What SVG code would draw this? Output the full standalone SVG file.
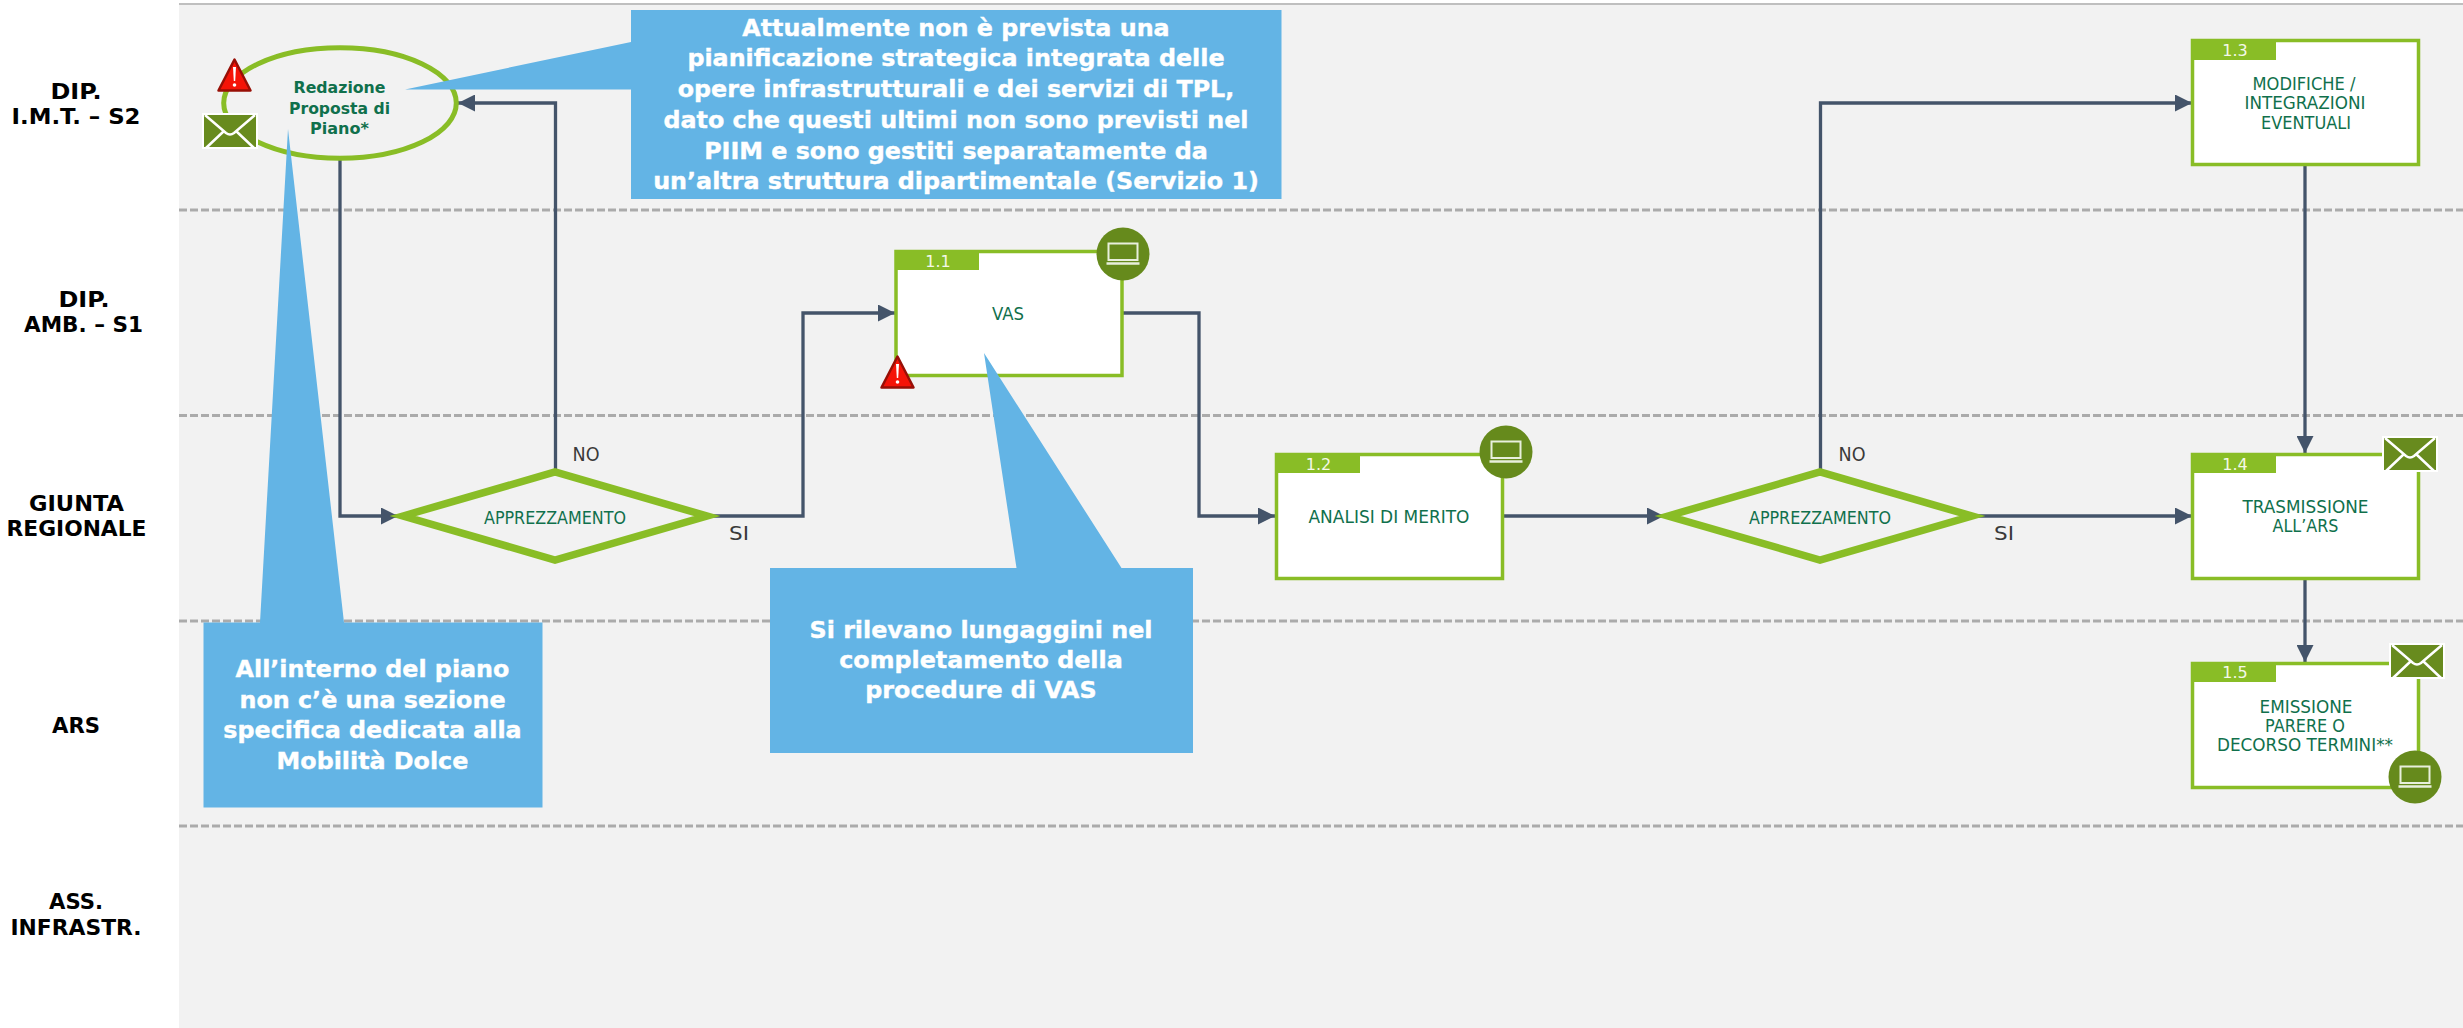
<svg xmlns="http://www.w3.org/2000/svg" width="2463" height="1028" viewBox="0 0 2463 1028">
<style>
text{font-family:"DejaVu Sans","Liberation Sans",sans-serif;text-anchor:middle}
.lane{font-size:21px;font-weight:700;fill:#000}
.lbl{font-size:17px;fill:#10704c}
.bold{font-size:16px;font-weight:700}
.num{font-size:16px;fill:#f4f8e8}
.dec{font-size:20px;fill:#3a3a3a}
.call{font-size:23.800px;font-weight:700;fill:#fff;stroke:#fff;stroke-width:.4}
.sep{stroke:#ababab;stroke-width:3;stroke-dasharray:8 3;fill:none}
.box{fill:#fff;stroke:#89bd26;stroke-width:3.500}
.hdr{fill:#89bd26}
.dia{fill:#f2f2f2;stroke:#89bd26;stroke-width:7.500}
.con{fill:none;stroke:#44546a;stroke-width:3.300;marker-end:url(#arr)}
.cal{fill:#63b4e5}
</style>
<defs>
<marker id="arr" markerUnits="userSpaceOnUse" markerWidth="17" markerHeight="17" refX="17" refY="8.500" orient="auto"><path d="M0,0L17,8.500L0,17Z" fill="#44546a"/></marker>
<symbol id="mail" viewBox="0 0 56 36" overflow="visible">
<rect width="56" height="36" fill="#fff"/><rect x="2" y="2" width="52" height="32" fill="#688b1e"/>
<path d="M3,2L24,20Q28,23 32,20L53,2M4,35L22,18M52,35L34,18" fill="none" stroke="#fff" stroke-width="2.500"/>
</symbol>
<symbol id="pc" viewBox="0 0 53 53" overflow="visible">
<circle cx="26.500" cy="26.500" r="26.500" fill="#668a1c"/>
<path d="M12,16H41V32.500H12Z" fill="none" stroke="#e8efdc" stroke-width="2"/><path d="M10,36H43" stroke="#e8efdc" stroke-width="2.500" fill="none"/>
</symbol>
<symbol id="warn" viewBox="0 0 35 34" overflow="visible">
<path d="M17.500,1.500L33.500,32.500H1.500Z" fill="#f51408" stroke="#980f06" stroke-width="2.500" stroke-linejoin="round"/>
<path d="M16,9H19L18.200,23H16.800Z" fill="#fff"/><circle cx="17.500" cy="27" r="1.800" fill="#fff"/>
</symbol>
</defs>
<rect width="2463" height="1028" fill="#fff"/>
<rect id="background" x="179" y="4" width="2284" height="1024" fill="#f2f2f2"/>
<path d="M179,4H2463" stroke="#bfbfbf" stroke-width="2" fill="none"/>
<g id="lanes">
<path class="sep" d="M179,210H2463"/><path class="sep" d="M179,415.500H2463"/><path class="sep" d="M179,621H2463"/><path class="sep" d="M179,826H2463"/>
<text class="lane" x="76" y="99" textLength="51" lengthAdjust="spacingAndGlyphs">DIP.</text><text class="lane" x="76" y="124" textLength="129" lengthAdjust="spacingAndGlyphs">I.M.T. – S2</text>
<text class="lane" x="84" y="307" textLength="51" lengthAdjust="spacingAndGlyphs">DIP.</text><text class="lane" x="83.500" y="332" textLength="119" lengthAdjust="spacingAndGlyphs">AMB. – S1</text>
<text class="lane" x="76.500" y="511" textLength="95" lengthAdjust="spacingAndGlyphs">GIUNTA</text><text class="lane" x="76.500" y="536" textLength="140" lengthAdjust="spacingAndGlyphs">REGIONALE</text>
<text class="lane" x="76" y="733" textLength="48" lengthAdjust="spacingAndGlyphs">ARS</text>
<text class="lane" x="76" y="909" textLength="54" lengthAdjust="spacingAndGlyphs">ASS.</text><text class="lane" x="76" y="935" textLength="131" lengthAdjust="spacingAndGlyphs">INFRASTR.</text>
</g>
<g id="connectors">
<path class="con" d="M340,159V516H398"/>
<path class="con" d="M555.500,469V103H458"/>
<path class="con" d="M713,516H803V313H895"/>
<path class="con" d="M1122,313H1199V516H1275"/>
<path class="con" d="M1503,516H1664"/>
<path class="con" d="M1820.500,469V103H2192"/>
<path class="con" d="M1978,516H2192"/>
<path class="con" d="M2305,165V453"/>
<path class="con" d="M2305,579V662"/>
</g>
<g id="node-redazione">
<ellipse cx="340" cy="103" rx="116.300" ry="55.200" fill="#f2f2f2" stroke="#89bd26" stroke-width="5"/>
<text class="lbl bold" x="339.500" y="93" textLength="92" lengthAdjust="spacingAndGlyphs">Redazione</text>
<text class="lbl bold" x="339.500" y="113.500" textLength="101" lengthAdjust="spacingAndGlyphs">Proposta di</text>
<text class="lbl bold" x="339.500" y="134" textLength="59" lengthAdjust="spacingAndGlyphs">Piano*</text>
<use href="#warn" x="217" y="58" width="35" height="34"/>
<use href="#mail" x="202" y="113" width="56" height="36"/>
</g>
<g id="node-dec1">
<path class="dia" d="M403,516L555,472L707,516L555,560Z"/>
<text class="lbl" x="555" y="524" textLength="142" lengthAdjust="spacingAndGlyphs">APPREZZAMENTO</text>
<text class="dec" x="586" y="461" textLength="27" lengthAdjust="spacingAndGlyphs">NO</text><text class="dec" x="739" y="540" textLength="20" lengthAdjust="spacingAndGlyphs">SI</text>
</g>
<g id="node-1-1">
<rect class="box" x="896" y="251.500" width="226" height="124"/><rect class="hdr" x="895" y="250" width="84" height="20"/>
<text class="num" x="938" y="267">1.1</text><text class="lbl" x="1008" y="320" textLength="32" lengthAdjust="spacingAndGlyphs">VAS</text>
<use href="#pc" x="1096.500" y="227.500" width="53" height="53"/>
<use href="#warn" x="880" y="355" width="35" height="34"/>
</g>
<g id="node-1-2">
<rect class="box" x="1276.500" y="454.500" width="226" height="124"/><rect class="hdr" x="1275" y="453" width="85" height="20"/>
<text class="num" x="1318.500" y="470">1.2</text><text class="lbl" x="1389" y="523" textLength="161" lengthAdjust="spacingAndGlyphs">ANALISI DI MERITO</text>
<use href="#pc" x="1479.500" y="425.500" width="53" height="53"/>
</g>
<g id="node-dec2">
<path class="dia" d="M1668,516L1820,472L1972,516L1820,560Z"/>
<text class="lbl" x="1820" y="524" textLength="142" lengthAdjust="spacingAndGlyphs">APPREZZAMENTO</text>
<text class="dec" x="1852" y="461" textLength="27" lengthAdjust="spacingAndGlyphs">NO</text><text class="dec" x="2004" y="540" textLength="20" lengthAdjust="spacingAndGlyphs">SI</text>
</g>
<g id="node-1-3">
<rect class="box" x="2192.500" y="40.500" width="226" height="124"/><rect class="hdr" x="2191" y="39" width="85" height="21"/>
<text class="num" x="2235" y="56">1.3</text>
<text class="lbl" x="2304" y="90" textLength="103" lengthAdjust="spacingAndGlyphs">MODIFICHE /</text><text class="lbl" x="2305" y="109" textLength="121" lengthAdjust="spacingAndGlyphs">INTEGRAZIONI</text><text class="lbl" x="2306" y="128.500" textLength="90" lengthAdjust="spacingAndGlyphs">EVENTUALI</text>
</g>
<g id="node-1-4">
<rect class="box" x="2192.500" y="454.500" width="226" height="124"/><rect class="hdr" x="2191" y="453" width="85" height="20"/>
<text class="num" x="2235" y="470">1.4</text>
<text class="lbl" x="2305.500" y="513" textLength="126" lengthAdjust="spacingAndGlyphs">TRASMISSIONE</text><text class="lbl" x="2305.500" y="532" textLength="66" lengthAdjust="spacingAndGlyphs">ALL’ARS</text>
<use href="#mail" x="2382" y="436" width="56" height="36"/>
</g>
<g id="node-1-5">
<rect class="box" x="2192.500" y="663.500" width="226" height="124"/><rect class="hdr" x="2191" y="662" width="85" height="20"/>
<text class="num" x="2235" y="678">1.5</text>
<text class="lbl" x="2306" y="713" textLength="93" lengthAdjust="spacingAndGlyphs">EMISSIONE</text><text class="lbl" x="2305" y="732" textLength="80" lengthAdjust="spacingAndGlyphs">PARERE O</text><text class="lbl" x="2305" y="751" textLength="176" lengthAdjust="spacingAndGlyphs">DECORSO TERMINI**</text>
<use href="#mail" x="2389" y="643" width="56" height="36"/>
<use href="#pc" x="2388.500" y="750.500" width="53" height="53"/>
</g>
<g id="callout-1">
<path class="cal" d="M631,10H1281.500V199H631V89.500H405L631,42Z"/>
<text class="call" x="956" y="35.500">Attualmente non è prevista una</text>
<text class="call" x="956" y="66">pianificazione strategica integrata delle</text>
<text class="call" x="956" y="97">opere infrastrutturali e dei servizi di TPL,</text>
<text class="call" x="956" y="128">dato che questi ultimi non sono previsti nel</text>
<text class="call" x="956" y="158.500">PIIM e sono gestiti separatamente da</text>
<text class="call" x="956" y="189">un’altra struttura dipartimentale (Servizio 1)</text>
</g>
<g id="callout-2">
<path class="cal" d="M770,568H1016.500L984,353L1121.500,568H1193V753H770Z"/>
<text class="call" x="981" y="638">Si rilevano lungaggini nel</text>
<text class="call" x="981" y="668">completamento della</text>
<text class="call" x="981" y="698">procedure di VAS</text>
</g>
<g id="callout-3">
<path class="cal" d="M203.500,622.500H260L288,129L344,622.500H542.500V807.500H203.500Z"/>
<text class="call" x="372.500" y="677">All’interno del piano</text>
<text class="call" x="372.500" y="708">non c’è una sezione</text>
<text class="call" x="372.500" y="738">specifica dedicata alla</text>
<text class="call" x="372.500" y="768.500">Mobilità Dolce</text>
</g>
</svg>
